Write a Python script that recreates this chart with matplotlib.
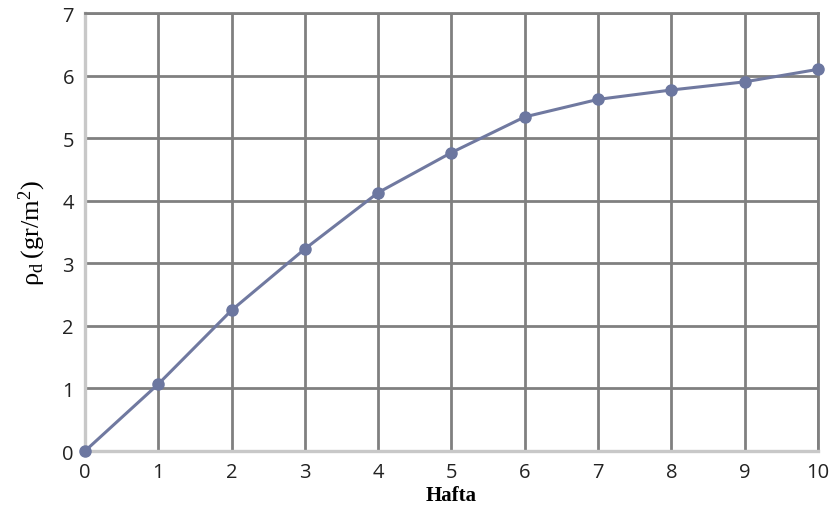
import matplotlib
matplotlib.use("Agg")
import matplotlib.pyplot as plt

weeks = [0, 1, 2, 3, 4, 5, 6, 7, 8, 9, 10]
density = [0.0, 1.07, 2.25, 3.23, 4.13, 4.77, 5.34, 5.62, 5.77, 5.90, 6.10]
xticks = list(range(0, 11))
yticks = list(range(0, 8))

fig = plt.figure(figsize=(8.35, 5.10), dpi=100)
ax = fig.add_axes([0.1018, 0.1137, 0.8778, 0.8588])

ax.set_xlim(0, 10)
ax.set_ylim(0, 7)
ax.set_xticks(xticks)
ax.set_yticks(yticks)

grid_color = "#808080"
ax.grid(True, color=grid_color, linewidth=2.0, zorder=0)
ax.set_axisbelow(True)
for side in ["top", "right"]:
    ax.spines[side].set_color(grid_color)
    ax.spines[side].set_linewidth(2.0)
for side in ["left", "bottom"]:
    ax.spines[side].set_color("#c8c8c8")
    ax.spines[side].set_linewidth(2.4)
    ax.spines[side].set_zorder(2.5)

ax.plot(weeks, density, color="#7079a0", linewidth=2.2, marker="o",
        markersize=8, markerfacecolor="#6c77a0", markeredgecolor="#6c77a0",
        zorder=3, clip_on=False)

ax.tick_params(axis="both", length=0, labelsize=14.5, colors="#222222", pad=8)
for lbl in ax.get_xticklabels() + ax.get_yticklabels():
    lbl.set_fontfamily("Open Sans")

ax.set_xlabel("Hafta", family="Liberation Serif", fontweight="bold",
              fontsize=15, labelpad=2)
ax.set_ylabel(r"$\mathregular{\rho_d\,(gr/m^2)}$", family="Liberation Serif",
              fontsize=19, labelpad=10)

fig.savefig("out.png", dpi=100)
